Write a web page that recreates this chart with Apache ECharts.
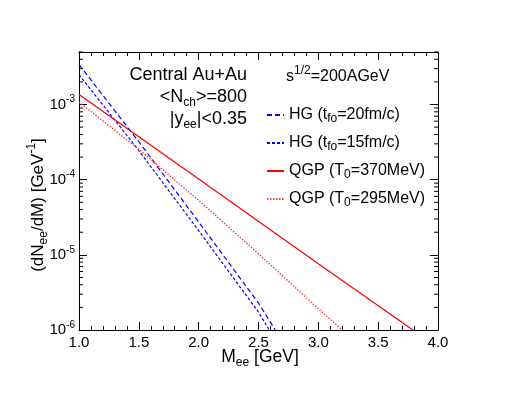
<!DOCTYPE html>
<html>
<head>
<meta charset="utf-8">
<script src="https://cdn.jsdelivr.net/npm/echarts@6/dist/echarts.min.js"></script>
<style>
html,body{margin:0;padding:0;background:#fff;}
#chart{width:515px;height:398px;}
</style>
</head>
<body>
<div id="chart"></div>
<script>
// ---- data ----
const xRange = [1.0, 4.0];
const xTickStep = 0.5;
const yRange = [1e-6, 5e-3];
const yDecades = [-6, -5, -4, -3];

const hg20M = [1.0, 1.5, 2.0, 2.5, 2.64];
const hg20V = [3.4e-3, 3.2e-4, 2.74e-5, 2.28e-6, 1.0e-6];

const hg15M = [1.0, 1.5, 2.0, 2.5, 2.59];
const hg15V = [2.5e-3, 2.44e-4, 2.1e-5, 1.73e-6, 1.0e-6];

const qgp370M = [1.0, 2.0, 3.0, 3.79];
const qgp370V = [1.36e-3, 1.02e-4, 7.6e-6, 1.0e-6];

const qgp295M = [1.0, 1.5, 2.0, 2.5, 3.0, 3.2];
const qgp295V = [1.08e-3, 2.54e-4, 5.3e-5, 1.03e-5, 1.92e-6, 1.0e-6];

const seriesNames = ['HG (tfo=20fm/c)', 'HG (tfo=15fm/c)', 'QGP (T0=370MeV)', 'QGP (T0=295MeV)'];
const legendRich = {
  'HG (tfo=20fm/c)': 'HG (t{sub|fo}=20fm/c)',
  'HG (tfo=15fm/c)': 'HG (t{sub|fo}=15fm/c)',
  'QGP (T0=370MeV)': 'QGP (T{sub|0}=370MeV)',
  'QGP (T0=295MeV)': 'QGP (T{sub|0}=295MeV)'
};

// ---- chart ----
const FONT = '"Liberation Sans", Arial, Helvetica, sans-serif';
const zip = (a, b) => a.map((v, i) => [v, b[i]]);
const rich = {
  sub: { fontSize: 12, lineHeight: 12, verticalAlign: 'bottom', fontFamily: FONT, color: '#000' },
  sup: { fontSize: 12, lineHeight: 12, verticalAlign: 'top', fontFamily: FONT, color: '#000' }
};
const tickRich = {
  sup: { fontSize: 10, lineHeight: 10, verticalAlign: 'top', fontFamily: FONT, color: '#000' }
};

const minorVals = [];
yDecades.forEach(d => {
  for (let m = 2; m <= 9; m++) {
    const v = m * Math.pow(10, d);
    if (v <= yRange[1]) minorVals.push([xRange[0], v]);
  }
});

const chart = echarts.init(document.getElementById('chart'), null, { renderer: 'canvas' });

const xAxisBase = {
  type: 'value', min: xRange[0], max: xRange[1], interval: xTickStep,
  axisLine: { show: true, onZero: false, lineStyle: { color: '#000', width: 1 } },
  axisTick: { show: true, inside: true, length: 8, lineStyle: { color: '#000' } },
  minorTick: { show: true, splitNumber: 5, length: 4, lineStyle: { color: '#000' } },
  splitLine: { show: false }
};
const yAxisBase = {
  type: 'log', logBase: 10, min: yRange[0], max: yRange[1],
  axisLine: { show: true, onZero: false, lineStyle: { color: '#000', width: 1 } },
  axisTick: { show: true, inside: true, length: 8, lineStyle: { color: '#000' } },
  splitLine: { show: false }
};

chart.setOption({
  backgroundColor: '#fff',
  animation: false,
  grid: { left: 79, right: 77, top: 52, bottom: 68, containLabel: false },
  xAxis: [
    Object.assign({}, xAxisBase, {
      position: 'bottom',
      axisLabel: { show: true, margin: 5, fontSize: 15, color: '#000', fontFamily: FONT,
        formatter: v => v.toFixed(1) }
    }),
    Object.assign({}, xAxisBase, { position: 'top', axisLabel: { show: false } })
  ],
  yAxis: [
    Object.assign({}, yAxisBase, {
      position: 'left',
      axisLabel: {
        show: true, margin: 4, fontSize: 15, color: '#000', fontFamily: FONT, lineHeight: 20,
        showMaxLabel: false,
        formatter: v => {
          const l = Math.log10(v);
          const e = Math.round(l);
          if (Math.abs(l - e) > 1e-6) return '';
          return '10{sup|' + e + '}';
        },
        rich: tickRich
      }
    }),
    Object.assign({}, yAxisBase, { position: 'right', axisLabel: { show: false } })
  ],
  legend: {
    orient: 'vertical', left: 261, top: 100,
    itemWidth: 17, itemHeight: 12, itemGap: 8,
    data: seriesNames,
    itemStyle: { opacity: 0 },
    formatter: n => legendRich[n],
    textStyle: { fontSize: 16, color: '#000', fontFamily: FONT, lineHeight: 20, rich: rich }
  },
  graphic: [
    { type: 'text', x: 247, y: 75, style: { text: 'Central Au+Au', align: 'right', verticalAlign: 'middle',
      fontSize: 18, fontFamily: FONT, fill: '#000' } },
    { type: 'text', x: 247, y: 97, style: { text: '<N{sub|ch}>=800', align: 'right', verticalAlign: 'middle',
      fontSize: 18, fontFamily: FONT, fill: '#000', lineHeight: 24, rich: rich } },
    { type: 'text', x: 247, y: 119, style: { text: '|y{sub|ee}|<0.35', align: 'right', verticalAlign: 'middle',
      fontSize: 18, fontFamily: FONT, fill: '#000', lineHeight: 24, rich: rich } },
    { type: 'text', x: 286, y: 77, style: { text: 's{sup|1/2}=200AGeV', align: 'left', verticalAlign: 'middle',
      fontSize: 16, fontFamily: FONT, fill: '#000', lineHeight: 24, rich: rich } },
    { type: 'text', x: 260, y: 357, style: { text: 'M{sub|ee} [GeV]', align: 'center', verticalAlign: 'middle',
      fontSize: 17.5, fontFamily: FONT, fill: '#000', lineHeight: 24, rich: rich } },
    { type: 'text', x: 38, y: 205, rotation: Math.PI / 2,
      style: { text: '(dN{sub|ee}/dM) [GeV{sup|-1}]', align: 'center', verticalAlign: 'middle',
      fontSize: 17, fontFamily: FONT, fill: '#000', lineHeight: 24, rich: rich } }
  ],
  series: [
    { name: seriesNames[0], type: 'line', data: zip(hg20M, hg20V), symbol: 'none', smooth: false,
      color: '#0000ff', lineStyle: { color: '#0000ff', width: 1.2, type: [5, 3] } },
    { name: seriesNames[1], type: 'line', data: zip(hg15M, hg15V), symbol: 'none', smooth: false,
      color: '#0000ff', lineStyle: { color: '#0000ff', width: 1.2, type: [3, 2] } },
    { name: seriesNames[2], type: 'line', data: zip(qgp370M, qgp370V), symbol: 'none', smooth: false,
      color: '#ff0000', lineStyle: { color: '#ff0000', width: 1.2, type: 'solid' } },
    { name: seriesNames[3], type: 'line', data: zip(qgp295M, qgp295V), symbol: 'none', smooth: false,
      color: '#ff0000', lineStyle: { color: '#ff3333', width: 1.4, type: [1.4, 1.6] } },
    { name: 'yMinorTicks', type: 'custom', silent: true, clip: false, data: minorVals, z: 5,
      renderItem: (params, api) => {
        const v = api.value(1);
        const p0 = api.coord([xRange[0], v]);
        const p1 = api.coord([xRange[1], v]);
        return { type: 'group', children: [
          { type: 'line', shape: { x1: p0[0], y1: p0[1], x2: p0[0] + 4, y2: p0[1] }, style: { stroke: '#000', lineWidth: 1 } },
          { type: 'line', shape: { x1: p1[0] - 4, y1: p1[1], x2: p1[0], y2: p1[1] }, style: { stroke: '#000', lineWidth: 1 } }
        ]};
      } }
  ]
});
</script>
</body>
</html>
